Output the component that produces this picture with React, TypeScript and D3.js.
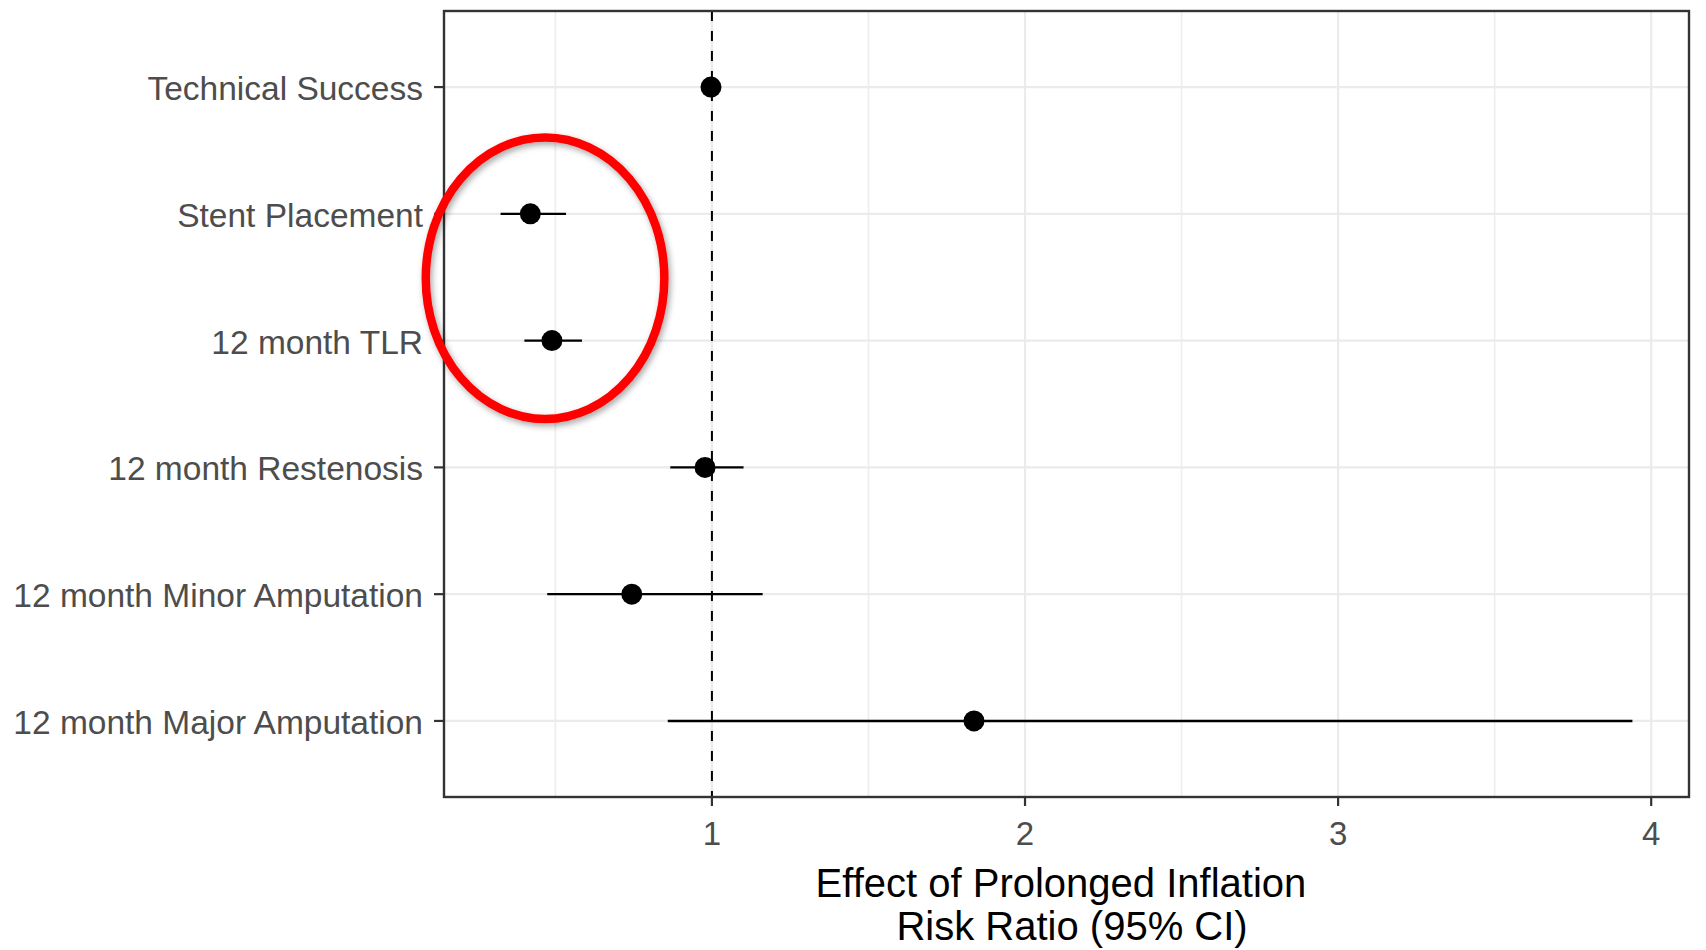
import React from "react";
import * as d3 from "d3";

const outcomes = [
  "Technical Success",
  "Stent Placement",
  "12 month TLR",
  "12 month Restenosis",
  "12 month Minor Amputation",
  "12 month Major Amputation",
];
const riskRatio = [0.997, 0.42, 0.489, 0.978, 0.744, 1.837];
const ciLower = [0.98, 0.325, 0.401, 0.867, 0.474, 0.859];
const ciUpper = [1.015, 0.534, 0.585, 1.101, 1.162, 3.94];
const xTicks = [1, 2, 3, 4];
const xMinorTicks = [0.5, 1.5, 2.5, 3.5];
const titleLines = ["Effect of Prolonged Inflation ", " Risk Ratio (95% CI)"];

const W = 1706;
const H = 950;
const panel = { left: 444, right: 1689, top: 11, bottom: 797 };
const FONT = "'Liberation Sans', Arial, Helvetica, sans-serif";

export default function App() {
  const lo = d3.min(ciLower) as number;
  const hi = d3.max(ciUpper) as number;
  const pad = (hi - lo) * 0.05;
  const x = d3.scaleLinear().domain([lo - pad, hi + pad]).range([panel.left, panel.right]);
  const y = d3
    .scalePoint<string>()
    .domain(outcomes)
    .range([panel.top, panel.bottom])
    .padding(0.6);

  const rows = outcomes.map((name, i) => ({
    name,
    rr: riskRatio[i],
    lo: ciLower[i],
    hi: ciUpper[i],
  }));

  const cx = (panel.left + panel.right) / 2;
  const step = y.step();
  // annotation ellipse around Stent Placement / 12 month TLR
  const ellCx = x(0.467);
  const ellCy = ((y("Stent Placement") as number) + (y("12 month TLR") as number)) / 2 + 1;
  const ellRx = x(0.467 + 0.381) - x(0.467);
  const ellRy = step * 1.11;

  return (
    <svg
      width={W}
      height={H}
      style={{ position: "absolute", left: 0, top: 0, display: "block", background: "#fff" }}
      fontFamily={FONT}
    >
      <defs>
        <filter id="shadow" x="-20%" y="-20%" width="140%" height="140%">
          <feDropShadow dx="2" dy="3" stdDeviation="3" floodColor="#000" floodOpacity="0.35" />
        </filter>
        <clipPath id="panelClip">
          <rect x={panel.left} y={panel.top} width={panel.right - panel.left} height={panel.bottom - panel.top} />
        </clipPath>
      </defs>
      <rect x={0} y={0} width={W} height={H} fill="#fff" />
      {/* grid */}
      <g clipPath="url(#panelClip)">
        {xMinorTicks.map((t) => (
          <line key={"mn" + t} x1={x(t)} x2={x(t)} y1={panel.top} y2={panel.bottom} stroke="#EDEDED" strokeWidth={1.6} />
        ))}
        {xTicks.map((t) => (
          <line key={"mj" + t} x1={x(t)} x2={x(t)} y1={panel.top} y2={panel.bottom} stroke="#EBEBEB" strokeWidth={2.2} />
        ))}
        {outcomes.map((o) => (
          <line key={"hy" + o} x1={panel.left} x2={panel.right} y1={y(o)} y2={y(o)} stroke="#EBEBEB" strokeWidth={2.2} />
        ))}
        {/* reference line */}
        <line
          x1={x(1)}
          x2={x(1)}
          y1={panel.top}
          y2={panel.bottom}
          stroke="#000"
          strokeWidth={2}
          strokeDasharray="10,10"
        />
        {/* CIs */}
        {rows.map((r) => (
          <line key={"ci" + r.name} x1={x(r.lo)} x2={x(r.hi)} y1={y(r.name)} y2={y(r.name)} stroke="#000" strokeWidth={2.4} />
        ))}
        {rows.map((r) => (
          <circle key={"pt" + r.name} cx={x(r.rr)} cy={y(r.name)} r={10.5} fill="#000" />
        ))}
      </g>
      {/* panel border */}
      <rect
        x={panel.left}
        y={panel.top}
        width={panel.right - panel.left}
        height={panel.bottom - panel.top}
        fill="none"
        stroke="#333333"
        strokeWidth={2.4}
      />
      {/* y axis ticks and labels */}
      {outcomes.map((o) => (
        <g key={"yl" + o}>
          <line x1={panel.left - 10} x2={panel.left} y1={y(o)} y2={y(o)} stroke="#333333" strokeWidth={2.2} />
          <text x={panel.left - 21} y={(y(o) as number) + 13} textAnchor="end" fontSize={33.5} fill="#4D4D4D">
            {o}
          </text>
        </g>
      ))}
      {/* x axis ticks and labels */}
      {xTicks.map((t) => (
        <g key={"xl" + t}>
          <line x1={x(t)} x2={x(t)} y1={panel.bottom} y2={panel.bottom + 9} stroke="#333333" strokeWidth={2.2} />
          <text x={x(t)} y={panel.bottom + 48} textAnchor="middle" fontSize={33} fill="#4D4D4D">
            {t}
          </text>
        </g>
      ))}
      {/* axis title */}
      {titleLines.map((line, i) => (
        <text
          key={"tt" + i}
          x={cx}
          y={panel.bottom + 100 + i * 43}
          textAnchor="middle"
          fontSize={40}
          fill="#000"
          style={{ whiteSpace: "pre" }}
        >
          {line}
        </text>
      ))}
      {/* annotation */}
      <ellipse
        cx={ellCx}
        cy={ellCy}
        rx={ellRx}
        ry={ellRy}
        fill="none"
        stroke="#FF0000"
        strokeWidth={8.5}
        filter="url(#shadow)"
      />
    </svg>
  );
}
